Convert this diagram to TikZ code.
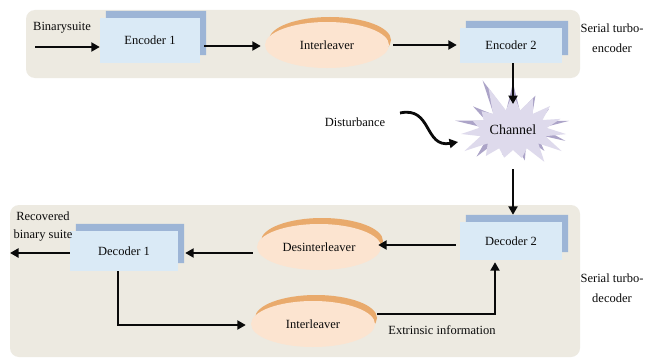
\documentclass[tikz,border=0pt]{standalone}
\usepackage{fontspec}
\setmainfont{Liberation Serif}
\usetikzlibrary{shapes.geometric,shapes.symbols,arrows.meta,calc}

\definecolor{panel}{RGB}{237,234,225}
\definecolor{boxlight}{RGB}{218,234,246}
\definecolor{boxbar}{RGB}{157,181,214}
\definecolor{peach}{RGB}{252,228,208}
\definecolor{orangearc}{RGB}{233,170,108}
\definecolor{burstlight}{RGB}{222,218,236}
\definecolor{burstdark}{RGB}{172,164,200}
\definecolor{ink}{RGB}{10,10,10}

\tikzset{
  panelbox/.style={rectangle, fill=panel, rounded corners=9pt, draw=none, inner sep=0pt},
  lightbox/.style={rectangle, fill=boxlight, inner sep=0pt, text=ink, font=\fontsize{12.5}{14}\selectfont},
  arr/.style={line width=2.8pt, draw=ink, -{Triangle[length=8.5pt,width=9pt]}},
  lbl/.style={font=\fontsize{12.5}{14}\selectfont, inner sep=0pt, text=ink},
  side/.style={font=\fontsize{12.5}{20}\selectfont, align=center, inner sep=0pt, text=ink},
  orangeell/.style={ellipse, fill=orangearc, inner sep=0pt, minimum width=122pt, minimum height=46pt},
  peachell/.style={ellipse, fill=peach, inner sep=0pt, minimum width=124pt, minimum height=46pt, text=ink, font=\fontsize{12.5}{14}\selectfont},
}
\newcommand\cornerbar[1]{\fill[boxbar] ([xshift=6pt,yshift=7pt]#1.north west) -- ([xshift=6pt,yshift=7pt]#1.north east) -- ([xshift=6pt,yshift=8pt]#1.south east) -- ([yshift=8pt]#1.south east) -- (#1.north east) -- ([xshift=6pt]#1.north west) -- cycle;}

\begin{document}
\begin{tikzpicture}[x=1pt,y=-1pt]
\useasboundingbox (0,0) rectangle (658,361);
\fill[white] (0,0) rectangle (658,361);

% panels
\node[panelbox, minimum width=554pt, minimum height=68pt] (encpanel) at (303,44) {};
\node[panelbox, minimum width=570pt, minimum height=152pt] (decpanel) at (295,281) {};

% ellipses
\node[orangeell] (int1o) at (330,40) {};
\node[peachell] (int1) at (327,45) {Interleaver};
\node[orangeell] (desinto) at (322,241) {};
\node[peachell] (desint) at (319,247) {Desinterleaver};
\node[orangeell] (int2o) at (316,318) {};
\node[peachell] (int2) at (313,324) {Interleaver};

% boxes
\node[lightbox, minimum width=100pt, minimum height=45pt] (enc1) at (150,40.5) {Encoder 1};
\cornerbar{enc1}
\node[lightbox, minimum width=102pt, minimum height=35pt] (enc2) at (511,45.5) {Encoder 2};
\cornerbar{enc2}
\node[lightbox, minimum width=102pt, minimum height=38pt] (dec2) at (511,241) {Decoder 2};
\cornerbar{dec2}
\node[lightbox, minimum width=108pt, minimum height=40pt] (dec1) at (124,251) {Decoder 1};
\cornerbar{dec1}

% channel
\node[starburst, fill=burstdark, starburst points=13, starburst point height=38pt, random starburst=11, minimum width=134pt, minimum height=106pt, inner sep=0pt] (chb) at (513,126) {};
\node[starburst, fill=burstlight, starburst points=15, starburst point height=28pt, random starburst=5, minimum width=124pt, minimum height=96pt, inner sep=0pt, text=ink, font=\fontsize{14}{16}\selectfont] (ch) at (513,130) {Channel};

% labels
\node[lbl] (binlab) at (62,28) {Binarysuite};
\node[side] (enclab) at (612,38) {Serial turbo-\\encoder};
\node[side] (declab) at (612,288) {Serial turbo-\\decoder};
\node[lbl] (dist) at (355,122) {Disturbance};
\node[lbl, align=center, font=\fontsize{12.5}{18}\selectfont] (reclab) at (43,227) {Recovered\\binary suite};
\node[lbl] (extlab) at (442,330) {Extrinsic information};

% connectors
\coordinate (in1) at (35,47);
\coordinate (outp) at (10,253);
\coordinate (d1) at (400,113);
\coordinate (d2) at (458,142);

\draw[arr] (in1) -- (in1 -| enc1.west);
\draw[arr, shorten >=4pt] ([xshift=4pt,yshift=-5.5pt]enc1.east) coordinate (a1) -- (a1 -| int1.west);
\draw[arr, shorten <=4pt, shorten >=3pt] (int1.east) -- (int1.east -| enc2.west);
\draw[arr, shorten >=26pt] ([xshift=2pt]enc2.south) -- (ch.center);
\draw[arr, shorten <=39pt] (ch.center) -- ([xshift=2pt,yshift=7pt]dec2.north);
\draw[arr, shorten >=-3pt] ([xshift=-4pt,yshift=-4pt]dec2.west) coordinate (a2) -- (a2 -| desint.east);
\draw[arr, shorten <=4pt, shorten >=7pt] ([yshift=-6pt]desint.west) coordinate (a3) -- (a3 -| dec1.east);
\draw[arr] ([yshift=-2pt]dec1.west) -- (outp);
\draw[arr] ([xshift=-6pt]dec1.south) |- ([xshift=-5pt,yshift=-1pt]int2.west);
\draw[arr] ([yshift=4pt]int2o.east) -| ([xshift=-16pt,yshift=-2pt]dec2.south);
\draw[arr] (d1) .. controls (432,106) and (424,148) .. (d2);
\end{tikzpicture}
\end{document}
